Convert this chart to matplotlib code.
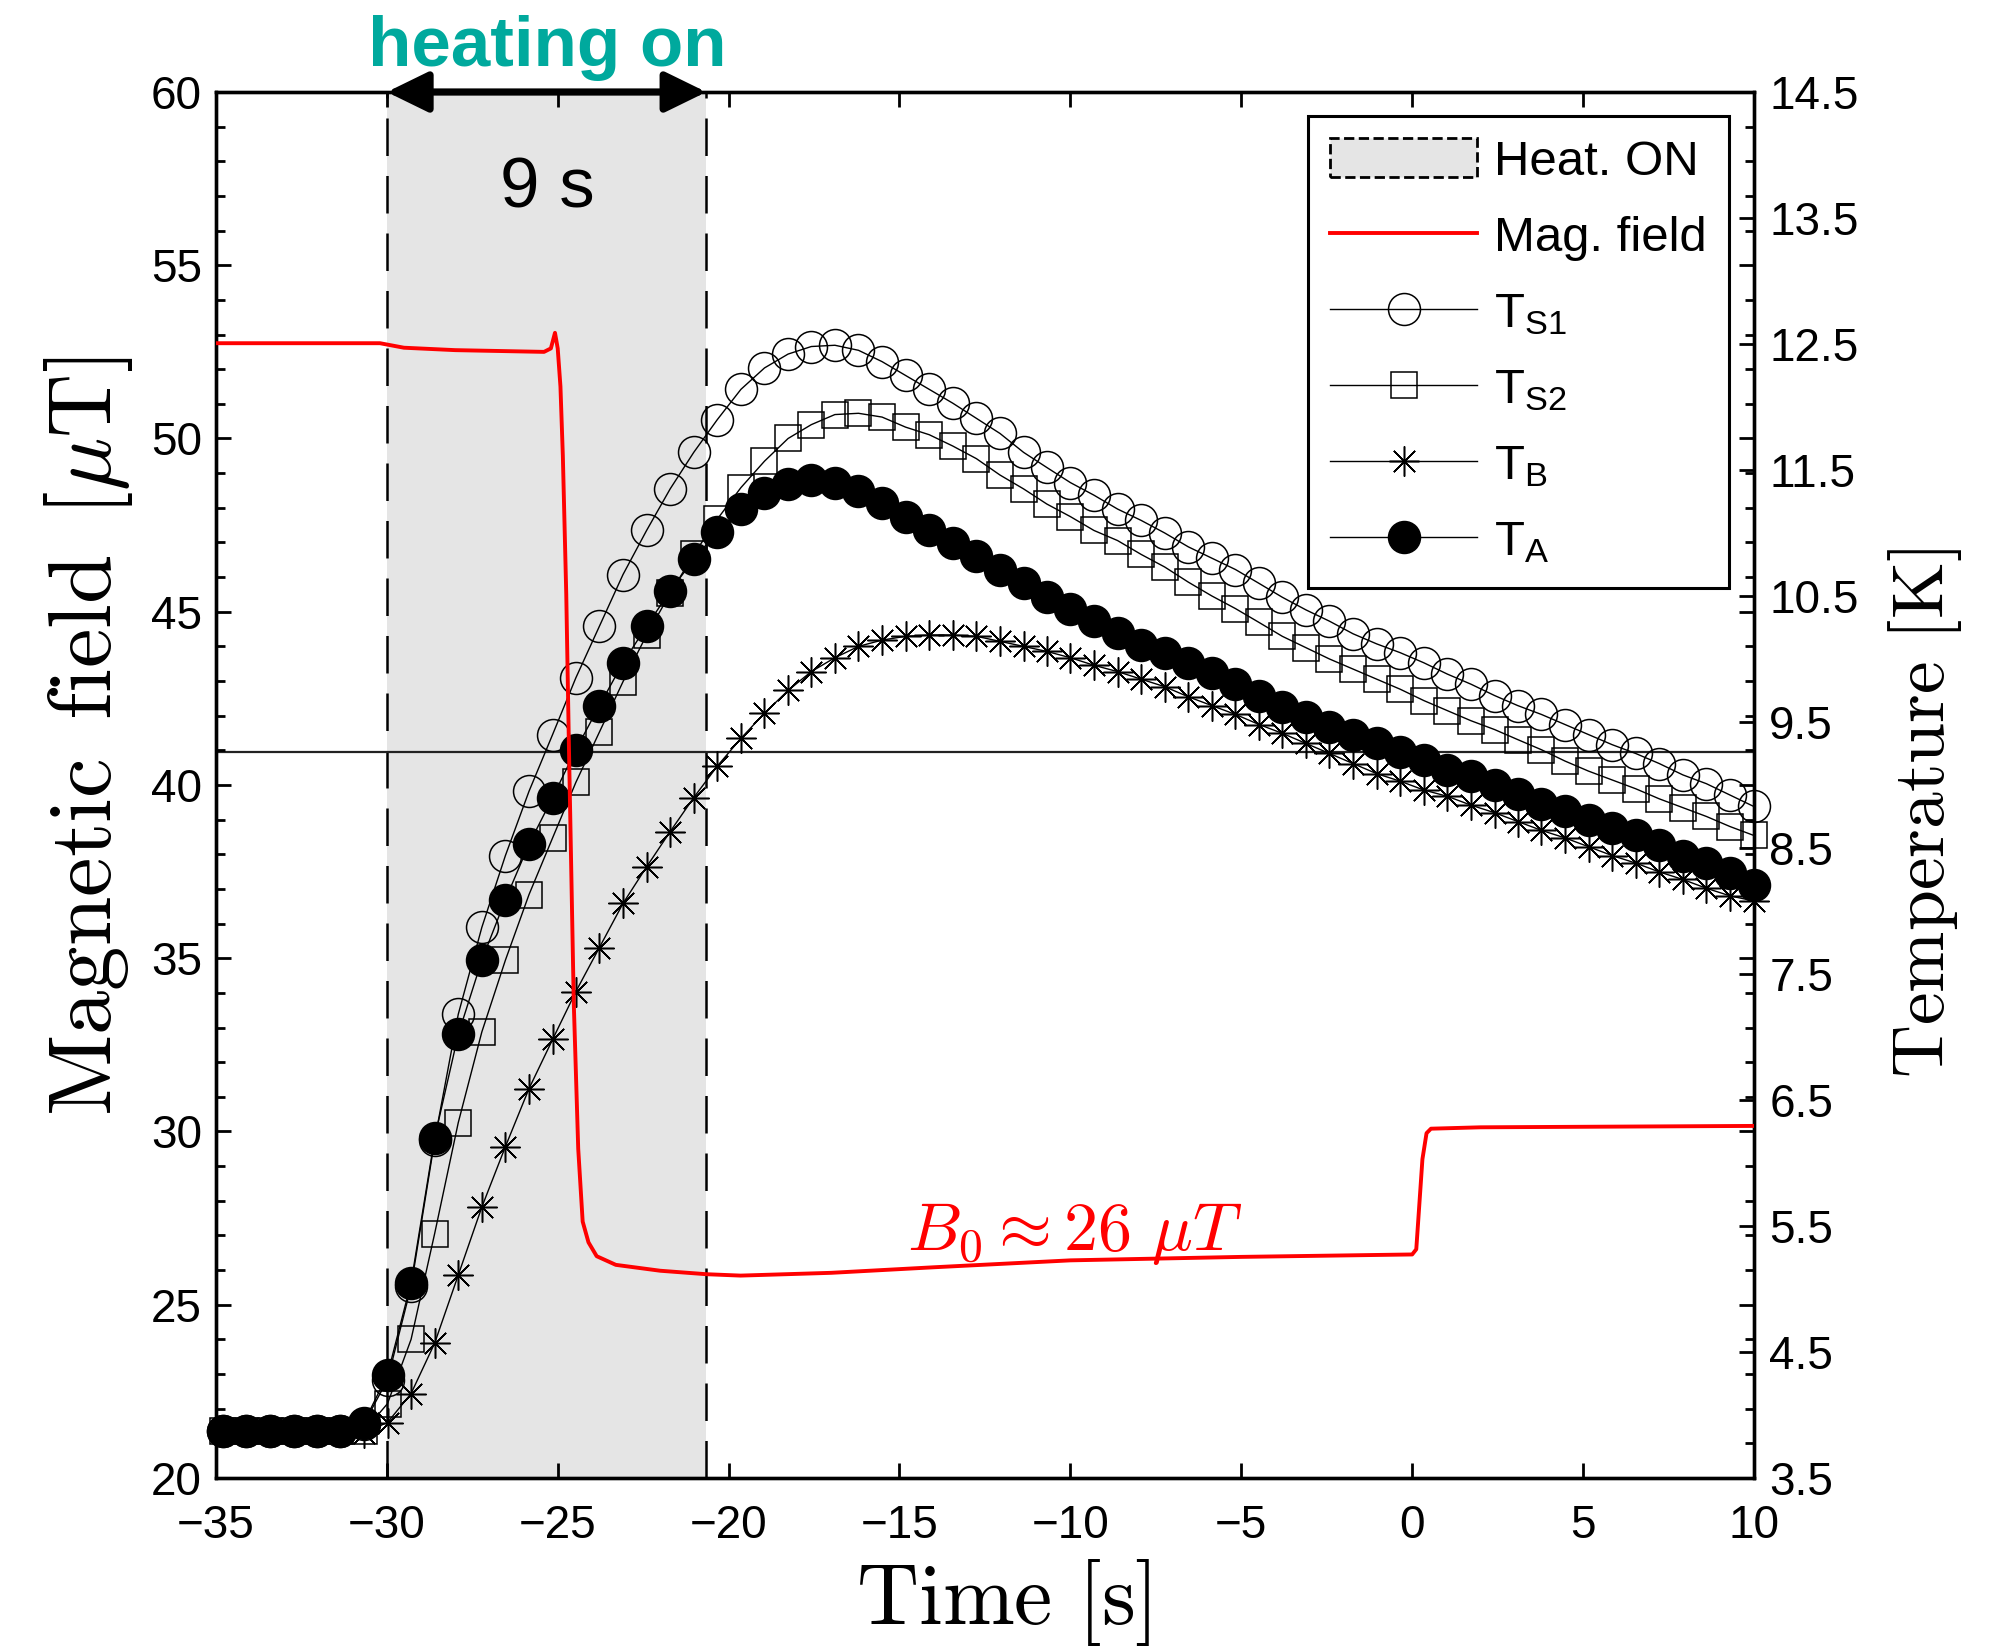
import numpy as np
import matplotlib
matplotlib.use('Agg')
import matplotlib.pyplot as plt
from matplotlib.lines import Line2D
from matplotlib.patches import Patch
from matplotlib.ticker import MultipleLocator

plt.rcParams['font.family'] = ['Liberation Sans', 'DejaVu Sans']
plt.rcParams['mathtext.fontset'] = 'custom'
plt.rcParams['mathtext.rm'] = 'Liberation Sans'
plt.rcParams['mathtext.it'] = 'Liberation Sans:italic'
plt.rcParams['mathtext.bf'] = 'Liberation Sans:bold'

# ---------------------------------------------------------------------------
# data
# ---------------------------------------------------------------------------
# sample times of the temperature readings [s]
time = [-34.80, -34.11, -33.42, -32.73, -32.04, -31.36, -30.67, -29.98, -29.29, -28.60,
        -27.91, -27.22, -26.53, -25.84, -25.15, -24.47, -23.78, -23.09, -22.40, -21.71,
        -21.02, -20.33, -19.64, -18.95, -18.26, -17.58, -16.89, -16.20, -15.51, -14.82,
        -14.13, -13.44, -12.75, -12.06, -11.37, -10.69, -10.00, -9.31, -8.62, -7.93,
        -7.24, -6.55, -5.86, -5.17, -4.48, -3.80, -3.11, -2.42, -1.73, -1.04,
        -0.35, 0.34, 1.03, 1.72, 2.41, 3.09, 3.78, 4.47, 5.16, 5.85,
        6.54, 7.23, 7.92, 8.61, 9.30, 9.99]

# temperatures [K]
T_S1 = [3.87, 3.87, 3.87, 3.87, 3.87, 3.87, 3.93, 4.28, 5.02, 6.18,
        7.18, 7.87, 8.44, 8.95, 9.40, 9.85, 10.26, 10.67, 11.02, 11.35,
        11.64, 11.90, 12.14, 12.31, 12.42, 12.48, 12.49, 12.45, 12.36, 12.25,
        12.14, 12.03, 11.91, 11.79, 11.64, 11.52, 11.40, 11.30, 11.19, 11.10,
        11.00, 10.89, 10.80, 10.71, 10.60, 10.49, 10.39, 10.30, 10.20, 10.12,
        10.05, 9.97, 9.88, 9.80, 9.71, 9.63, 9.56, 9.48, 9.40, 9.32,
        9.25, 9.17, 9.08, 9.01, 8.92, 8.83]

T_S2 = [3.87, 3.87, 3.87, 3.87, 3.87, 3.87, 3.87, 4.09, 4.60, 5.44,
        6.32, 7.04, 7.61, 8.13, 8.58, 9.02, 9.42, 9.82, 10.19, 10.52,
        10.83, 11.11, 11.36, 11.57, 11.75, 11.86, 11.94, 11.95, 11.92, 11.84,
        11.78, 11.69, 11.59, 11.46, 11.35, 11.23, 11.13, 11.02, 10.94, 10.83,
        10.73, 10.61, 10.50, 10.40, 10.29, 10.18, 10.09, 10.00, 9.92, 9.84,
        9.76, 9.67, 9.59, 9.51, 9.44, 9.36, 9.28, 9.19, 9.11, 9.04,
        8.97, 8.89, 8.82, 8.75, 8.67, 8.60]

T_B = [3.87, 3.87, 3.87, 3.87, 3.87, 3.87, 3.86, 3.94, 4.17, 4.57,
       5.11, 5.65, 6.13, 6.59, 6.98, 7.36, 7.71, 8.06, 8.35, 8.63,
       8.90, 9.15, 9.37, 9.57, 9.75, 9.90, 10.01, 10.10, 10.15, 10.18,
       10.19, 10.19, 10.18, 10.14, 10.10, 10.06, 10.01, 9.95, 9.90, 9.84,
       9.78, 9.70, 9.63, 9.56, 9.48, 9.41, 9.33, 9.25, 9.17, 9.09,
       9.03, 8.96, 8.91, 8.84, 8.78, 8.71, 8.64, 8.58, 8.51, 8.44,
       8.38, 8.31, 8.25, 8.18, 8.12, 8.08]

T_A = [3.87, 3.87, 3.87, 3.87, 3.87, 3.87, 3.94, 4.32, 5.05, 6.20,
       7.02, 7.61, 8.09, 8.53, 8.90, 9.28, 9.63, 9.97, 10.26, 10.54,
       10.79, 11.01, 11.19, 11.32, 11.39, 11.42, 11.40, 11.33, 11.24, 11.13,
       11.02, 10.92, 10.82, 10.71, 10.60, 10.49, 10.40, 10.30, 10.21, 10.11,
       10.05, 9.97, 9.89, 9.80, 9.71, 9.62, 9.54, 9.46, 9.40, 9.33,
       9.26, 9.20, 9.12, 9.07, 9.00, 8.93, 8.85, 8.79, 8.72, 8.66,
       8.60, 8.52, 8.44, 8.38, 8.30, 8.21]

# magnetic field trace [uT]
field_t = [-35.0, -30.2, -29.5, -28.0, -25.4, -25.2, -25.08, -25.0, -24.92, -24.85,
           -24.75, -24.67, -24.53, -24.4, -24.27, -24.1, -23.86, -23.3, -22.0, -20.65,
           -19.65, -17.0, -14.0, -10.0, -5.0, 0.0, 0.12, 0.3, 0.42, 0.55,
           2.0, 10.0]
field_B = [52.75, 52.75, 52.62, 52.55, 52.50, 52.60, 53.05, 52.60, 51.5, 49.5,
           45.5, 41.0, 33.7, 29.5, 27.4, 26.8, 26.4, 26.15, 25.98, 25.88,
           25.84, 25.92, 26.08, 26.28, 26.38, 26.45, 26.60, 29.2, 29.95, 30.08,
           30.12, 30.16]

heat_on = -30.0
heat_off = -20.65
T_c = 9.26

B_ticks = [20, 25, 30, 35, 40, 45, 50, 55, 60]
T_ticks = [3.5, 4.5, 5.5, 6.5, 7.5, 8.5, 9.5, 10.5, 11.5, 12.5, 13.5, 14.5]
t_ticks = [-35, -30, -25, -20, -15, -10, -5, 0, 5, 10]

# ---------------------------------------------------------------------------
# figure
# ---------------------------------------------------------------------------
fig = plt.figure(figsize=(9.96, 8.23), dpi=200)
ax = fig.add_axes([0.1084, 0.1021, 0.7721, 0.8420])
ax2 = ax.twinx()
# field axis drawn above the temperature axis
ax.set_zorder(ax2.get_zorder() + 1)
ax.patch.set_visible(False)

dash = (0, (15, 8))
ax2.axvspan(heat_on, heat_off, color='#e5e5e5', lw=0, zorder=0)
ax2.axvline(heat_on, color='k', lw=0.9, ls=dash, zorder=1)
ax2.axvline(heat_off, color='k', lw=0.9, ls=dash, zorder=1)
ax2.axhline(T_c, color='#222222', lw=0.8, zorder=1)

ax2.plot(time, T_S1, color='k', lw=0.5, marker='o', ms=11.5, mfc='none', mec='k', mew=0.55,
         zorder=2, clip_on=False)
ax2.plot(time, T_S2, color='k', lw=0.5, marker='s', ms=9.7, mfc='none', mec='k', mew=0.55,
         zorder=3, clip_on=False)
ax2.plot(time, T_B, color='k', lw=0.5, marker=(8, 2, 0), ms=10.8, mec='k', mew=0.55,
         zorder=4, clip_on=False)
ax2.plot(time, T_A, color='k', lw=0.5, marker='o', ms=11.5, mfc='k', mec='k', mew=0.55,
         zorder=5, clip_on=False)

ax.plot(field_t, field_B, color='#ff0000', lw=1.4, zorder=3)
ax.text(-9.87, 26.59, r'$B_0 \approx 26\ \mu T$', color='#ff0000', fontsize=24.5,
        math_fontfamily='cm', ha='center', va='baseline')

# heating annotation
ax.annotate('', xy=(heat_off, 60), xytext=(heat_on, 60),
            arrowprops=dict(arrowstyle='<|-|>,head_length=0.45,head_width=0.22',
                            mutation_scale=28, lw=2.6, color='k', shrinkA=0, shrinkB=0),
            annotation_clip=False, zorder=6)
ax.text(-25.3, 60.75, 'heating on', color='#00a99d', fontsize=25.5, fontweight='bold',
        ha='center', va='baseline', clip_on=False)
ax.text(-25.3, 57.2, '9 s', fontsize=25.5, ha='center', va='center')

# axes limits and ticks
ax.set_xlim(-35, 10)
ax.set_ylim(20, 60)
ax2.set_ylim(3.5, 14.5)
ax.set_xticks(t_ticks)
ax.set_yticks(B_ticks)
ax.xaxis.set_minor_locator(MultipleLocator(1))
ax.yaxis.set_minor_locator(MultipleLocator(1))
ax2.set_yticks(T_ticks)
ax2.set_yticklabels([f'{v:.1f}' for v in T_ticks])
ax2.minorticks_off()

ax.tick_params(which='both', direction='in', top=True, right=True, width=1.0, labelsize=16.5)
ax.tick_params(which='major', length=5.5)
ax.tick_params(which='minor', length=3.2)
ax.tick_params(axis='x', pad=9.5)
ax.tick_params(axis='y', pad=5)
ax2.tick_params(direction='in', length=5.5, width=1.0, labelsize=16.5, pad=5.5)
for a in (ax, ax2):
    for s in a.spines.values():
        s.set_linewidth(1.2)

ax.set_xlabel(r'$\mathrm{Time\ [s]}$', fontsize=31, math_fontfamily='cm', va='center')
ax.xaxis.set_label_coords(0.512, -0.09)
ax.set_ylabel(r'$\mathrm{Magnetic\ \,field\ \,[}\mu\mathrm{T]}$', fontsize=32,
              math_fontfamily='cm', va='center')
ax.yaxis.set_label_coords(-0.0826, 0.535)
ax2.set_ylabel(r'$\mathrm{Temperature\ [K]}$', fontsize=26.5, math_fontfamily='cm',
               va='center', rotation=90)
ax2.yaxis.set_label_coords(1.111, 0.48)

# legend
handles = [
    Patch(facecolor='#e5e5e5', edgecolor='k', linestyle='--', lw=1.0),
    Line2D([], [], color='#ff0000', lw=1.4),
    Line2D([], [], color='k', lw=0.5, marker='o', ms=11.5, mfc='none', mew=0.55),
    Line2D([], [], color='k', lw=0.5, marker='s', ms=9.7, mfc='none', mew=0.55),
    Line2D([], [], color='k', lw=0.5, marker=(8, 2, 0), ms=10.8, mew=0.55),
    Line2D([], [], color='k', lw=0.5, marker='o', ms=11.5, mfc='k', mew=0.55),
]
labels = ['Heat. ON', 'Mag. field', r'T$_{\mathrm{S1}}$', r'T$_{\mathrm{S2}}$',
          r'T$_{\mathrm{B}}$', r'T$_{\mathrm{A}}$']
leg = ax.legend(handles, labels, loc='upper right', bbox_to_anchor=(0.9837, 0.9827),
                fontsize=17.7, frameon=True, fancybox=False, edgecolor='k', framealpha=1,
                handlelength=3.0, handletextpad=0.34, borderaxespad=0, labelspacing=0.6,
                borderpad=0.45, handleheight=0.85)
leg.get_frame().set_linewidth(1.1)

fig.savefig('out.png', dpi=200)
